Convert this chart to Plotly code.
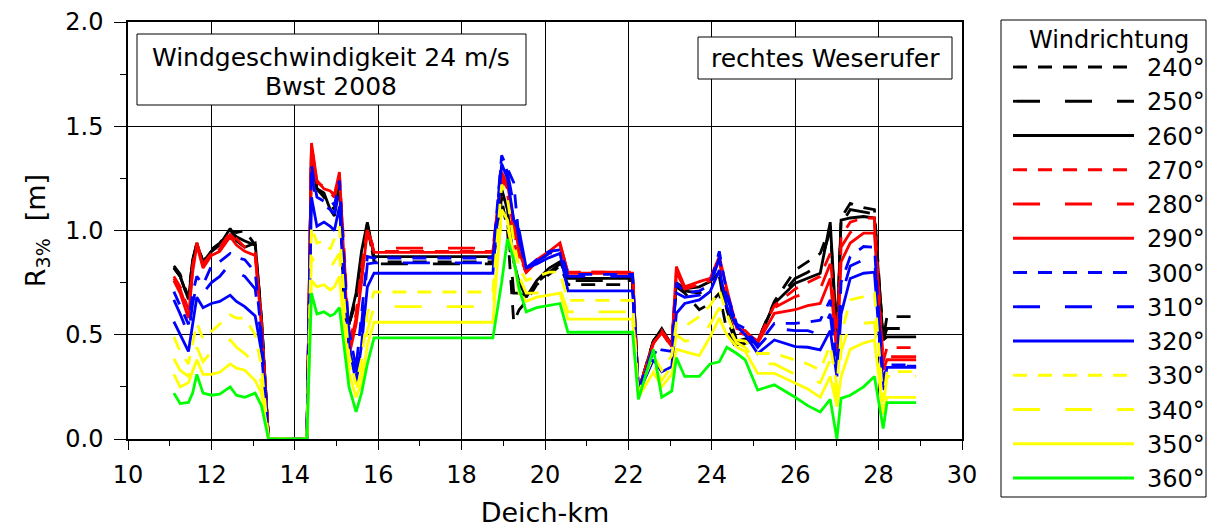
import plotly.graph_objects as go

# ---------------- data ----------------
x_km = [11.1, 11.25, 11.45, 11.55, 11.65, 11.8, 12.0, 12.2, 12.45, 12.6, 12.8, 13.05, 13.2, 13.37,
        14.29, 14.4, 14.53, 14.7, 14.85, 14.95, 15.07, 15.2, 15.3, 15.47, 15.6, 15.74, 15.9,
        18.75, 18.96, 19.1, 19.25, 19.38, 19.55, 19.8, 20.1, 20.36, 20.55,
        22.1, 22.24, 22.6, 22.8, 23.04, 23.15, 23.35, 23.7, 23.96, 24.18, 24.36, 24.6, 24.8,
        25.1, 25.5, 26.0, 26.3, 26.6, 26.84, 27.0, 27.1, 27.32, 27.64, 27.9, 28.11, 28.2, 28.9]

r240 = [0.83, 0.79, 0.68, 0.86, 0.94, 0.85, 0.91, 0.94, 1.00, 0.99, 1.00, 0.93, 0.58, 0.0,
        0.0, 1.40, 1.20, 1.16, 1.12, 1.10, 1.22, 0.56, 0.55, 0.66, 0.86, 1.03, 0.85,
        0.85, 1.15, 1.00, 0.56, 0.62, 0.66, 0.74, 0.79, 0.83, 0.74,
        0.74, 0.23, 0.47, 0.52, 0.45, 0.73, 0.70, 0.62, 0.65, 0.70, 0.52, 0.43, 0.46,
        0.47, 0.66, 0.81, 0.85, 0.89, 1.02, 0.47, 1.06, 1.13, 1.11, 1.10, 0.475, 0.587, 0.587]
r250 = [0.82, 0.78, 0.67, 0.86, 0.94, 0.85, 0.90, 0.93, 1.00, 0.97, 0.95, 0.93, 0.58, 0.0,
        0.0, 1.39, 1.20, 1.17, 1.12, 1.09, 1.22, 0.58, 0.55, 0.68, 0.88, 1.03, 0.84,
        0.84, 1.16, 1.05, 0.70, 0.70, 0.68, 0.75, 0.80, 0.84, 0.76,
        0.76, 0.23, 0.47, 0.52, 0.45, 0.74, 0.71, 0.70, 0.72, 0.78, 0.58, 0.45, 0.47,
        0.47, 0.65, 0.77, 0.80, 0.84, 1.00, 0.47, 1.03, 1.10, 1.09, 1.08, 0.475, 0.53, 0.53]
r260 = [0.82, 0.78, 0.67, 0.85, 0.94, 0.84, 0.90, 0.93, 1.01, 0.95, 0.92, 0.94, 0.58, 0.0,
        0.0, 1.38, 1.20, 1.18, 1.10, 1.07, 1.22, 0.60, 0.55, 0.70, 0.90, 1.04, 0.875,
        0.875, 1.20, 1.10, 0.85, 0.75, 0.68, 0.76, 0.82, 0.85, 0.77,
        0.77, 0.23, 0.47, 0.53, 0.45, 0.75, 0.72, 0.73, 0.755, 0.80, 0.62, 0.47, 0.48,
        0.47, 0.65, 0.747, 0.77, 0.795, 1.04, 0.49, 1.05, 1.06, 1.067, 1.06, 0.475, 0.49, 0.49]
r270 = [0.78, 0.73, 0.62, 0.83, 0.94, 0.84, 0.89, 0.92, 0.99, 0.96, 0.92, 0.90, 0.56, 0.0,
        0.0, 1.41, 1.23, 1.21, 1.19, 1.17, 1.27, 0.85, 0.45, 0.60, 0.82, 1.01, 0.90,
        0.90, 1.25, 1.18, 0.95, 0.86, 0.80, 0.85, 0.89, 0.93, 0.80,
        0.80, 0.23, 0.46, 0.52, 0.45, 0.78, 0.72, 0.74, 0.76, 0.85, 0.68, 0.51, 0.50,
        0.47, 0.64, 0.72, 0.75, 0.78, 0.89, 0.45, 0.97, 1.04, 1.06, 1.06, 0.37, 0.438, 0.438]
r280 = [0.77, 0.72, 0.60, 0.82, 0.94, 0.83, 0.89, 0.91, 0.98, 0.95, 0.91, 0.89, 0.55, 0.0,
        0.0, 1.40, 1.22, 1.20, 1.18, 1.16, 1.26, 0.82, 0.42, 0.58, 0.78, 1.00, 0.915,
        0.915, 1.26, 1.20, 1.00, 0.88, 0.80, 0.85, 0.89, 0.93, 0.80,
        0.80, 0.23, 0.46, 0.51, 0.44, 0.80, 0.72, 0.74, 0.76, 0.86, 0.70, 0.52, 0.51,
        0.47, 0.63, 0.683, 0.70, 0.72, 0.84, 0.42, 0.92, 0.99, 1.03, 1.03, 0.35, 0.395, 0.395]
r290 = [0.76, 0.70, 0.58, 0.80, 0.93, 0.82, 0.88, 0.90, 0.97, 0.93, 0.90, 0.88, 0.55, 0.0,
        0.0, 1.42, 1.24, 1.20, 1.19, 1.17, 1.28, 0.80, 0.40, 0.55, 0.75, 1.00, 0.895,
        0.895, 1.28, 1.22, 1.05, 0.90, 0.80, 0.86, 0.90, 0.94, 0.795,
        0.795, 0.23, 0.46, 0.51, 0.443, 0.827, 0.73, 0.755, 0.77, 0.875, 0.72, 0.53, 0.52,
        0.46, 0.603, 0.62, 0.64, 0.65, 0.77, 0.40, 0.85, 0.94, 0.987, 0.987, 0.33, 0.38, 0.38]
r300 = [0.707, 0.64, 0.55, 0.70, 0.78, 0.74, 0.83, 0.85, 0.89, 0.87, 0.86, 0.80, 0.50, 0.0,
        0.0, 1.31, 1.16, 1.14, 1.15, 1.12, 1.24, 0.78, 0.52, 0.34, 0.60, 0.875, 0.868,
        0.868, 1.36, 1.30, 1.23, 0.95, 0.82, 0.86, 0.90, 0.907, 0.79,
        0.79, 0.23, 0.44, 0.427, 0.42, 0.75, 0.70, 0.71, 0.74, 0.90, 0.70, 0.55, 0.53,
        0.45, 0.555, 0.555, 0.56, 0.57, 0.667, 0.34, 0.75, 0.875, 0.923, 0.92, 0.27, 0.355, 0.355]
r310 = [0.667, 0.60, 0.50, 0.65, 0.74, 0.70, 0.75, 0.78, 0.84, 0.80, 0.78, 0.72, 0.48, 0.0,
        0.0, 1.28, 1.12, 1.12, 1.10, 1.08, 1.20, 0.75, 0.50, 0.32, 0.55, 0.84, 0.845,
        0.845, 1.35, 1.28, 1.12, 0.95, 0.82, 0.85, 0.89, 0.90, 0.78,
        0.78, 0.23, 0.42, 0.40, 0.40, 0.70, 0.68, 0.69, 0.73, 0.87, 0.68, 0.55, 0.52,
        0.44, 0.53, 0.52, 0.52, 0.50, 0.60, 0.32, 0.68, 0.83, 0.86, 0.87, 0.26, 0.35, 0.35]
r320 = [0.563, 0.50, 0.42, 0.55, 0.68, 0.63, 0.65, 0.66, 0.69, 0.66, 0.635, 0.59, 0.42, 0.0,
        0.0, 1.16, 1.02, 1.04, 1.02, 1.00, 1.115, 0.70, 0.45, 0.27, 0.45, 0.73, 0.795,
        0.795, 1.32, 1.25, 1.05, 1.00, 0.82, 0.84, 0.87, 0.89, 0.71,
        0.71, 0.22, 0.38, 0.323, 0.347, 0.603, 0.65, 0.667, 0.707, 0.81, 0.635, 0.54, 0.50,
        0.41, 0.475, 0.443, 0.44, 0.427, 0.52, 0.30, 0.60, 0.77, 0.795, 0.80, 0.235, 0.344, 0.344]
r330 = [0.49, 0.42, 0.36, 0.45, 0.556, 0.48, 0.515, 0.55, 0.595, 0.58, 0.58, 0.50, 0.35, 0.0,
        0.0, 1.02, 0.94, 0.95, 0.91, 0.96, 1.02, 0.62, 0.40, 0.26, 0.38, 0.60, 0.705,
        0.705, 1.22, 1.15, 0.95, 0.82, 0.76, 0.78, 0.80, 0.80, 0.665,
        0.665, 0.22, 0.40, 0.33, 0.40, 0.555, 0.54, 0.587, 0.64, 0.715, 0.60, 0.475, 0.47,
        0.41, 0.41, 0.38, 0.36, 0.33, 0.45, 0.25, 0.50, 0.667, 0.683, 0.70, 0.18, 0.323, 0.323]
r340 = [0.385, 0.33, 0.30, 0.36, 0.44, 0.37, 0.42, 0.43, 0.475, 0.44, 0.41, 0.36, 0.27, 0.0,
        0.0, 0.875, 0.82, 0.83, 0.82, 0.85, 0.89, 0.55, 0.36, 0.23, 0.33, 0.52, 0.635,
        0.635, 1.08, 1.02, 0.88, 0.78, 0.70, 0.70, 0.72, 0.72, 0.61,
        0.61, 0.21, 0.36, 0.28, 0.35, 0.50, 0.47, 0.475, 0.55, 0.63, 0.55, 0.46, 0.44,
        0.36, 0.36, 0.31, 0.29, 0.27, 0.38, 0.20, 0.42, 0.555, 0.555, 0.56, 0.15, 0.30, 0.30]
r350 = [0.31, 0.25, 0.27, 0.33, 0.38, 0.31, 0.31, 0.32, 0.36, 0.34, 0.33, 0.28, 0.22, 0.0,
        0.0, 0.76, 0.73, 0.74, 0.715, 0.73, 0.78, 0.50, 0.32, 0.20, 0.27, 0.45, 0.56,
        0.56, 1.10, 1.05, 0.85, 0.70, 0.66, 0.68, 0.69, 0.70, 0.575,
        0.575, 0.20, 0.32, 0.25, 0.31, 0.43, 0.42, 0.40, 0.49, 0.58, 0.50, 0.44, 0.42,
        0.315, 0.315, 0.27, 0.24, 0.20, 0.30, 0.155, 0.30, 0.43, 0.46, 0.475, 0.12, 0.20, 0.20]
r360 = [0.22, 0.17, 0.175, 0.22, 0.31, 0.22, 0.21, 0.215, 0.25, 0.21, 0.20, 0.22, 0.16, 0.0,
        0.0, 0.70, 0.60, 0.61, 0.59, 0.60, 0.63, 0.40, 0.25, 0.13, 0.22, 0.36, 0.485,
        0.485, 0.75, 0.96, 0.86, 0.72, 0.61, 0.63, 0.64, 0.65, 0.512,
        0.512, 0.19, 0.43, 0.20, 0.23, 0.39, 0.30, 0.30, 0.36, 0.37, 0.44, 0.41, 0.38,
        0.235, 0.26, 0.20, 0.16, 0.13, 0.19, 0.0, 0.195, 0.21, 0.25, 0.30, 0.05, 0.174, 0.174]

series_names = ["240°", "250°", "260°", "270°", "280°", "290°", "300°",
                "310°", "320°", "330°", "340°", "350°", "360°"]
series_values = [r240, r250, r260, r270, r280, r290, r300, r310, r320, r330, r340, r350, r360]

x_ticks = [10, 12, 14, 16, 18, 20, 22, 24, 26, 28, 30]
y_ticks = [0.0, 0.5, 1.0, 1.5, 2.0]

# ---------------- styles ----------------
BLACK, RED, BLUE, YELLOW, GREEN = "#000000", "#ff0000", "#0000ff", "#ffff00", "#00ff00"
colors = [BLACK] * 3 + [RED] * 3 + [BLUE] * 3 + [YELLOW] * 3 + [GREEN]
SHORT, LONG = "14px,11px", "27px,25px"
dashes = [SHORT, LONG, "solid"] * 4 + ["solid"]
FONT = "DejaVu Sans, Arial, sans-serif"
LW = 2.8

W, H = 1215, 529
L, R, T, B = 128, 962, 22, 439   # plot area in pixels


def px(xp):
    return (xp - L) / (R - L)


def py(yp):
    return (B - yp) / (B - T)


fig = go.Figure()
for name, vals, col, dsh in zip(series_names, series_values, colors, dashes):
    fig.add_trace(go.Scatter(x=x_km, y=vals, mode="lines", name=name,
                             line=dict(color=col, width=LW, dash=dsh),
                             showlegend=False))

shapes = []
annotations = []

# text boxes inside the plot
shapes.append(dict(type="rect", xref="paper", yref="paper",
                   x0=px(137), x1=px(526), y0=py(105), y1=py(34),
                   line=dict(color="black", width=1), fillcolor="white", layer="above"))
annotations.append(dict(xref="paper", yref="paper", x=px(331), y=py(57),
                        text="Windgeschwindigkeit 24 m/s", showarrow=False,
                        xanchor="center", yanchor="middle", font=dict(size=25, color="black", family=FONT)))
annotations.append(dict(xref="paper", yref="paper", x=px(331), y=py(86),
                        text="Bwst 2008", showarrow=False,
                        xanchor="center", yanchor="middle", font=dict(size=25, color="black", family=FONT)))
shapes.append(dict(type="rect", xref="paper", yref="paper",
                   x0=px(698), x1=px(952), y0=py(79), y1=py(37),
                   line=dict(color="black", width=1), fillcolor="white", layer="above"))
annotations.append(dict(xref="paper", yref="paper", x=px(825), y=py(58),
                        text="rechtes Weserufer", showarrow=False,
                        xanchor="center", yanchor="middle", font=dict(size=25, color="black", family=FONT)))

# legend box (drawn manually to match long sample lines)
shapes.append(dict(type="rect", xref="paper", yref="paper",
                   x0=px(1001), x1=px(1206), y0=py(497), y1=py(20),
                   line=dict(color="black", width=1), fillcolor="white", layer="below"))
annotations.append(dict(xref="paper", yref="paper", x=px(1109), y=py(40),
                        text="Windrichtung", showarrow=False,
                        xanchor="center", yanchor="middle", font=dict(size=24, color="black", family=FONT)))
for i, (name, col, dsh) in enumerate(zip(series_names, colors, dashes)):
    yy = 67 + i * 34.25
    shapes.append(dict(type="line", xref="paper", yref="paper",
                       x0=px(1013), x1=px(1134), y0=py(yy), y1=py(yy),
                       line=dict(color=col, width=LW, dash=dsh)))
    annotations.append(dict(xref="paper", yref="paper", x=px(1145), y=py(yy + 1),
                            text=name, showarrow=False, xanchor="left", yanchor="middle",
                            font=dict(size=24, color="black", family=FONT)))

axis_common = dict(showline=True, linecolor="black", linewidth=1.5, mirror=True,
                   showgrid=True, gridcolor="black", gridwidth=1.2, zeroline=False,
                   ticks="outside", tickcolor="black", tickwidth=1.2,
                   tickfont=dict(size=24, color="black", family=FONT))

fig.update_layout(
    width=W, height=H,
    margin=dict(l=L, r=W - R, t=T, b=H - B, autoexpand=False),
    paper_bgcolor="white", plot_bgcolor="white",
    font=dict(family=FONT, color="black"),
    shapes=shapes, annotations=annotations,
    xaxis=dict(range=[10, 30], tickvals=x_ticks, ticklen=9,
               minor=dict(dtick=1, ticklen=5, ticks="outside", tickcolor="black", tickwidth=1.2, showgrid=False),
               title=dict(text="Deich-km", font=dict(size=27, color="black", family=FONT), standoff=16),
               ticklabelstandoff=4, **axis_common),
    yaxis=dict(range=[0, 2.0], tickvals=y_ticks, tickformat=".1f", ticklen=12,
               minor=dict(dtick=0.25, ticklen=6, ticks="outside", tickcolor="black", tickwidth=1.2, showgrid=False),
               title=dict(text="R<sub>3%</sub>  [m]", font=dict(size=27, color="black", family=FONT), standoff=12),
               ticklabelstandoff=6, **axis_common),
)

fig.write_html("out.html")
